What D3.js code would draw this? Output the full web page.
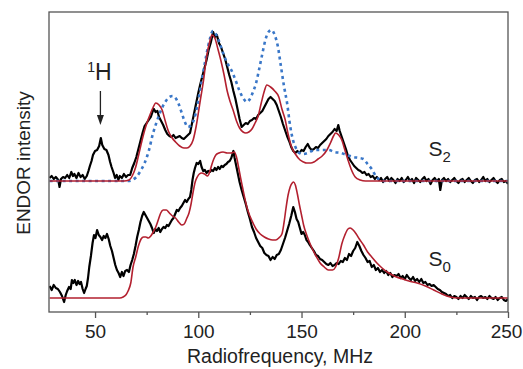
<!DOCTYPE html>
<html>
<head>
<meta charset="utf-8">
<script src="https://cdn.jsdelivr.net/npm/d3@7"></script>
<style>
  html, body { margin: 0; padding: 0; background: #fff; }
  text { font-family: "Liberation Sans", Arial, sans-serif; fill: #222; }
</style>
</head>
<body>
<div id="graph"></div>
<script>
// tick labels on the frequency axis
const majorTicks = [50, 100, 150, 200, 250];
const minorTicks = [75, 125, 175, 225];

// S2 state: experiment (black), simulation (red), alternative simulation (blue dotted)
const s2Exp = [[28,3],[29,5],[30,2],[31,4],[32.2,1],[32.8,-6],[33.5,2],[34.5,4],[35.5,3],[36.5,6],[37.5,3],[38.5,9],[39.3,5],[40,7],[41,3],[42,8],[43,4],[44,6],[45,2],[46,5],[46.8,10],[47.5,15],[48.3,20],[49,26],[50,30],[51,31],[52,35],[52.8,43],[53.5,36],[54.5,32],[55.5,31],[56.5,26],[57.3,19],[58,14],[59,8],[59.7,3],[60.5,6],[61.3,1],[62,5],[63,3],[64,7],[65,4],[66,6],[67,6],[68,13],[69,18],[70,24],[71,32],[72,40],[73,48],[74,55],[75,58],[76,61],[77,64],[78,70],[78.5,72],[79.3,69],[80.2,70],[81,64],[82,60],[83,56],[84,51],[85,47],[86,45],[87,44],[88,46],[89,43],[90,44],[91,45],[92,43],[93,42],[94,44],[95,46],[96,48],[97,58],[98,68],[99,78],[100,88],[101,97],[102,105],[103,113],[104,121],[105,131],[106,138],[107.2,149],[108,144],[109,146],[110,138],[111,134],[112,128],[113,122],[114,114],[115,106],[116,99],[117,90],[118,82],[119,72],[120,62],[121,54],[122,56],[123,58],[124,57],[125,60],[126,61],[127,63],[128,62],[129,66],[130,68],[131,70],[132,74],[133,78],[134,82],[135,84],[136,82],[137,80],[138,76],[139,70],[140,64],[141,57],[142,51],[143,45],[144,40],[145,34],[146,30],[147,28],[148,30],[149,28],[150,31],[151,30],[152,34],[153,37],[154,33],[155,31],[156,32],[157,34],[158,33],[159,36],[160,38],[161,40],[162,42],[163,45],[164,47],[165,49],[166,52],[167,50],[167.8,56],[168.5,50],[169.5,44],[170.5,38],[171.5,32],[172.5,25],[173.5,21],[174.5,18],[175.5,15],[176.5,13],[177.5,11],[178.5,10],[179.5,8],[180.5,9],[181.5,6],[182.5,7],[183.5,4],[184.5,5],[185.5,2],[186.5,4],[187.5,1],[188.5,3],[189.5,-1],[190.5,2],[191.5,4],[192.5,0],[193.5,3],[194.5,1],[195.5,-2],[196.5,2],[197.5,0],[198.5,3],[199.5,-1],[200.5,1],[201.5,4],[202.5,0],[203.5,2],[204.5,-2],[205.5,3],[206.5,1],[207.5,-1],[208.5,2],[209.5,4],[210.5,0],[211.5,2],[212.5,-3],[213.5,1],[214.5,3],[215.5,0],[216.5,2],[217.2,-9],[218,1],[219,3],[220,0],[221,2],[222,-1],[223,1],[224,3],[225,0],[226,-2],[227,1],[228,2],[229,-1],[230,1],[231,3],[232,0],[233,-2],[234,1],[235,2],[236,-1],[237,1],[238,4],[239,0],[240,2],[241,-1],[242,1],[243,3],[244,0],[245,-2],[246,1],[247,2],[248,-1],[249,0],[250,-3]];

const s2Sim = [[28,0],[64,0],[66.5,1],[68,5],[69.7,14],[71,25],[72.8,41],[74.5,54],[76.2,64],[78,73],[79.4,78],[81,76],[82.5,71],[84,60],[85.5,50],[87,44],[89,39],[91,35],[93,33],[94.5,33],[96,35],[97.5,41],[99,55],[101,81],[102.5,100],[104,124],[105.5,139],[106.6,146],[108,143],[109.5,132],[111,120],[112.5,106],[114,90],[115.5,79],[117,70],[118.5,60],[120,53],[121.7,49],[123,48],[124.5,49],[126,52],[127.5,58],[129,65],[130.5,78],[132,90],[133.2,96],[135,94],[137,90],[139,84],[140.5,72],[142,62],[143.5,47],[145,35],[147,27],[149.3,21],[151,19],[152.5,18],[154.5,18],[156,19],[158,22],[160,25],[162.3,31],[164,38],[165.5,45],[166.5,48],[168,46],[169.5,41],[171,31],[172.5,21],[174,12],[176,4],[178.4,1],[181,0],[250,0]];

const s2Alt = [[28,0],[66,0],[68,1],[70,4],[72,10],[74,18],[76,30],[78,47],[80,60],[82,71],[84,79],[86,84],[87.5,85],[89,83],[90.5,77],[92,68],[93.5,59],[95,54],[96.5,56],[98,62],[99.5,75],[101,92],[102.5,110],[104,127],[105.5,141],[107,150],[108.5,147],[110,140],[112,128],[114,118],[116,111],[118,101],[120,90],[122,82],[123.5,79],[125,82],[126.5,89],[128,98],[129.5,112],[131,127],[132.5,141],[134,149],[135.5,151],[137,146],[138.5,135],[140,115],[141.5,95],[143,78],[144.5,55],[146,40],[147.5,32],[149,28],[151,27],[153,28],[155,30],[157,31],[160,31],[163,31],[166,29],[169,28],[172,26],[175,24],[178,23],[180,22],[182,17],[184,12],[186,5],[188,1],[190,0],[250,0]];

// S0 state: experiment (black), simulation (red)
const s0Exp = [[28,12],[29,8],[30,13],[31,10],[32,9],[33,6],[34,2],[35,-4],[35.8,3],[36.5,7],[37.4,11],[38.2,9],[38.8,18],[39.5,15],[40.2,18],[41,13],[41.8,17],[42.5,14],[43.2,16],[44,9],[44.7,5],[45.4,9],[46,12],[46.6,20],[47.2,31],[48,42],[48.8,55],[49.5,63],[50.2,60],[51,68],[51.8,63],[52.6,61],[53.4,58],[54.2,62],[55,60],[55.8,64],[56.6,59],[57.4,52],[58.2,47],[59,40],[59.8,33],[60.6,28],[61.4,25],[62.2,21],[63,26],[63.8,22],[64.6,27],[65.5,28],[66.4,26],[67.2,33],[68,38],[68.8,44],[69.6,52],[70.4,61],[71.2,68],[72,76],[72.8,82],[73.6,86],[74.4,83],[75.2,80],[76,77],[76.8,74],[77.6,70],[78.4,65],[79.2,69],[80,67],[80.8,70],[81.6,66],[82.4,69],[83.2,71],[84,70],[84.8,73],[85.6,72],[86.4,75],[87.2,78],[88,80],[88.8,84],[89.6,88],[90.4,87],[91.2,90],[92,92],[92.8,95],[93.6,98],[94.4,96],[95.2,99],[96,101],[96.6,108],[97.2,118],[97.8,125],[98.4,130],[99.2,135],[100,134],[100.9,137],[101.6,131],[102.4,127],[103.2,128],[104,125],[104.8,127],[105.6,126],[106.4,128],[107.2,127],[108,130],[108.8,128],[109.6,131],[110.4,129],[111.2,132],[112,131],[112.8,133],[113.6,134],[114.4,136],[115.2,137],[116,140],[117,147],[117.6,140],[118.4,132],[119.2,124],[120,116],[121,108],[122,101],[123,94],[124,86],[125,79],[126,71],[127,66],[128,60],[129,56],[130,52],[131,50],[132,45],[133,43],[134,42],[135,38],[136,41],[137,39],[138,43],[139,44],[140,48],[141,54],[142,60],[143,67],[144,74],[145,82],[146,91],[146.8,86],[147.6,79],[148.4,76],[149.2,70],[150,64],[150.8,66],[151.6,63],[152.4,58],[153.2,56],[154,53],[155,50],[156,47],[157,43],[158,42],[159,39],[160,38],[161,36],[162,34],[163,33],[164,35],[165,32],[166,33],[167,35],[168,34],[169,37],[170,36],[171,40],[172,38],[173,44],[174,42],[175,47],[176,50],[177,56],[178,52],[179,47],[180,43],[181,40],[182,36],[183,37],[184,31],[185,33],[186,28],[187,30],[188,26],[189,28],[190,25],[191,27],[192,23],[193,25],[194,21],[195,23],[196,22],[197,24],[198,20],[199,22],[200,19],[201,23],[202,20],[203,18],[204,21],[205,17],[206,19],[207,16],[208,19],[209,15],[210,16],[211,13],[212,14],[213,12],[214,13],[215,11],[216,9],[217,8],[218,6],[219,5],[220,4],[221,2],[222,3],[223,0],[224,2],[225,1],[226,-1],[227,2],[228,0],[229,3],[230,1],[231,-1],[232,2],[233,0],[234,1],[235,-2],[236,1],[237,2],[238,0],[239,1],[240,-1],[241,2],[242,0],[243,-1],[244,1],[245,-2],[246,0],[247,1],[248,-2],[249,-3],[250,-1]];

const s0Sim = [[28,0],[62,0],[63.6,1],[64.9,3],[66,7],[67.3,15],[68.4,31],[69.7,41],[71,52],[72.3,59],[73.5,61],[74.6,61],[75.8,60],[77,62],[78.2,66],[79.4,71],[80.6,78],[81.8,85],[83,88],[84.5,88],[86,85],[87.5,82],[89,80],[90.5,76],[92,73],[93.2,74],[94.3,79],[95.5,85],[96.5,94],[97.5,106],[98.5,116],[99.5,121],[100.5,124],[101.7,125],[103,124],[104.5,122],[105.5,126],[106.5,133],[107.5,139],[108.5,143],[110,145],[112,146],[114,145],[116,145],[117.5,146],[118.5,141],[119.5,131],[120.5,120],[121.5,110],[122.5,100],[123.5,91],[125,82],[126.5,75],[128,69],[130,64],[132,61],[134,59],[136,58],[137.5,58],[139,60],[140.5,64],[141.5,75],[142.5,90],[143.5,103],[144.5,111],[145.5,115],[146.2,116],[147,113],[148,104],[149,93],[150,83],[151,73],[152.5,63],[154,55],[155.5,48],[157,42],[159,35],[161,31],[163,28],[165,28],[166.5,31],[168,40],[169.5,54],[171,63],[172.5,69],[173.6,70],[175,68],[176.5,64],[178,59],[180,53],[182,46],[184,41],[186.5,35],[189,30],[191.5,26],[194,23],[196,21],[199,19],[202,17],[206,15],[210,12],[214,8],[218,4],[222,1],[226,0],[250,0]];

const s2Offset = 117; // vertical stacking of the S2 trace

const W = 523, H = 369;
const margin = {top: 12, right: 15, bottom: 57, left: 49};
const width = W - margin.left - margin.right;
const height = H - margin.top - margin.bottom;

const svg = d3.select("div#graph")
  .append("svg")
  .attr("width", W)
  .attr("height", H);

const g = svg.append("g")
  .attr("transform", "translate(" + margin.left + "," + margin.top + ")");

const x = d3.scaleLinear().domain([27.7, 250]).range([0, width]);
const y = d3.scaleLinear().domain([-14, 286]).range([height, 0]);

g.append("clipPath").attr("id", "clip")
  .append("rect").attr("width", width).attr("height", height);

const line = (off) => d3.line()
  .x(d => x(d[0]))
  .y(d => y(d[1] + off));

const plot = g.append("g").attr("clip-path", "url(#clip)");

// experimental traces
plot.append("path").datum(s2Exp)
  .attr("fill", "none").attr("stroke", "#000").attr("stroke-width", 2.2)
  .attr("stroke-linejoin", "round")
  .attr("d", line(s2Offset));
plot.append("path").datum(s0Exp)
  .attr("fill", "none").attr("stroke", "#000").attr("stroke-width", 2.2)
  .attr("stroke-linejoin", "round")
  .attr("d", line(0));

// dotted blue simulation
plot.append("path").datum(s2Alt)
  .attr("fill", "none").attr("stroke", "#3a77c8").attr("stroke-width", 2.6)
  .attr("stroke-dasharray", "3,3.5")
  .attr("d", line(s2Offset).curve(d3.curveMonotoneX));

// red simulations
plot.append("path").datum(s2Sim)
  .attr("fill", "none").attr("stroke", "#b3202f").attr("stroke-width", 1.6)
  .attr("d", line(s2Offset).curve(d3.curveMonotoneX));
plot.append("path").datum(s0Sim)
  .attr("fill", "none").attr("stroke", "#b3202f").attr("stroke-width", 1.6)
  .attr("d", line(0).curve(d3.curveMonotoneX));

// frame
g.append("rect")
  .attr("width", width).attr("height", height)
  .attr("fill", "none").attr("stroke", "#555").attr("stroke-width", 1.3);

// x axis, major and minor ticks
const xAxis = g.append("g")
  .attr("transform", "translate(0," + height + ")")
  .call(d3.axisBottom(x).tickValues(majorTicks).tickSize(6).tickPadding(7));
xAxis.select(".domain").remove();
xAxis.selectAll("line").attr("stroke", "#555").attr("stroke-width", 1.3);
xAxis.selectAll("text")
  .style("font-family", '"Liberation Sans", Arial, sans-serif')
  .style("font-size", "19px").attr("fill", "#222")
  .attr("dx", d => d === 250 ? -2 : 0);

const xMinor = g.append("g")
  .attr("transform", "translate(0," + height + ")")
  .call(d3.axisBottom(x).tickValues(minorTicks).tickSize(3).tickFormat(""));
xMinor.select(".domain").remove();
xMinor.selectAll("line").attr("stroke", "#555").attr("stroke-width", 1.3);

// axis titles
svg.append("text")
  .attr("x", 280)
  .attr("y", 363)
  .attr("text-anchor", "middle")
  .style("font-size", "19.5px")
  .text("Radiofrequency, MHz");

svg.append("text")
  .attr("transform", "translate(30," + 163 + ") rotate(-90)")
  .attr("text-anchor", "middle")
  .style("font-size", "19px")
  .text("ENDOR intensity");

// state labels
const s2Label = g.append("text")
  .attr("x", x(211.5)).attr("y", y(25 + s2Offset))
  .style("font-size", "21px");
s2Label.append("tspan").text("S");
s2Label.append("tspan").attr("dy", 6).style("font-size", "15px").text("2");

const s0Label = g.append("text")
  .attr("x", x(211.5)).attr("y", y(32))
  .style("font-size", "21px");
s0Label.append("tspan").text("S");
s0Label.append("tspan").attr("dy", 6).style("font-size", "15px").text("0");

// 1H marker with arrow
const hx = x(52.6);
const hLabel = g.append("text")
  .attr("x", hx - 1).attr("y", y(218))
  .attr("text-anchor", "middle")
  .style("font-size", "23px");
hLabel.append("tspan").attr("dy", -8).style("font-size", "14px").text("1");
hLabel.append("tspan").attr("dy", 8).text("H");

g.append("line")
  .attr("x1", hx).attr("x2", hx)
  .attr("y1", y(207)).attr("y2", y(178))
  .attr("stroke", "#222").attr("stroke-width", 1.3);
g.append("path")
  .attr("d", "M" + (hx - 3.5) + "," + y(183) + "L" + (hx + 3.5) + "," + y(183) + "L" + hx + "," + y(173) + "Z")
  .attr("fill", "#222");
</script>
</body>
</html>
